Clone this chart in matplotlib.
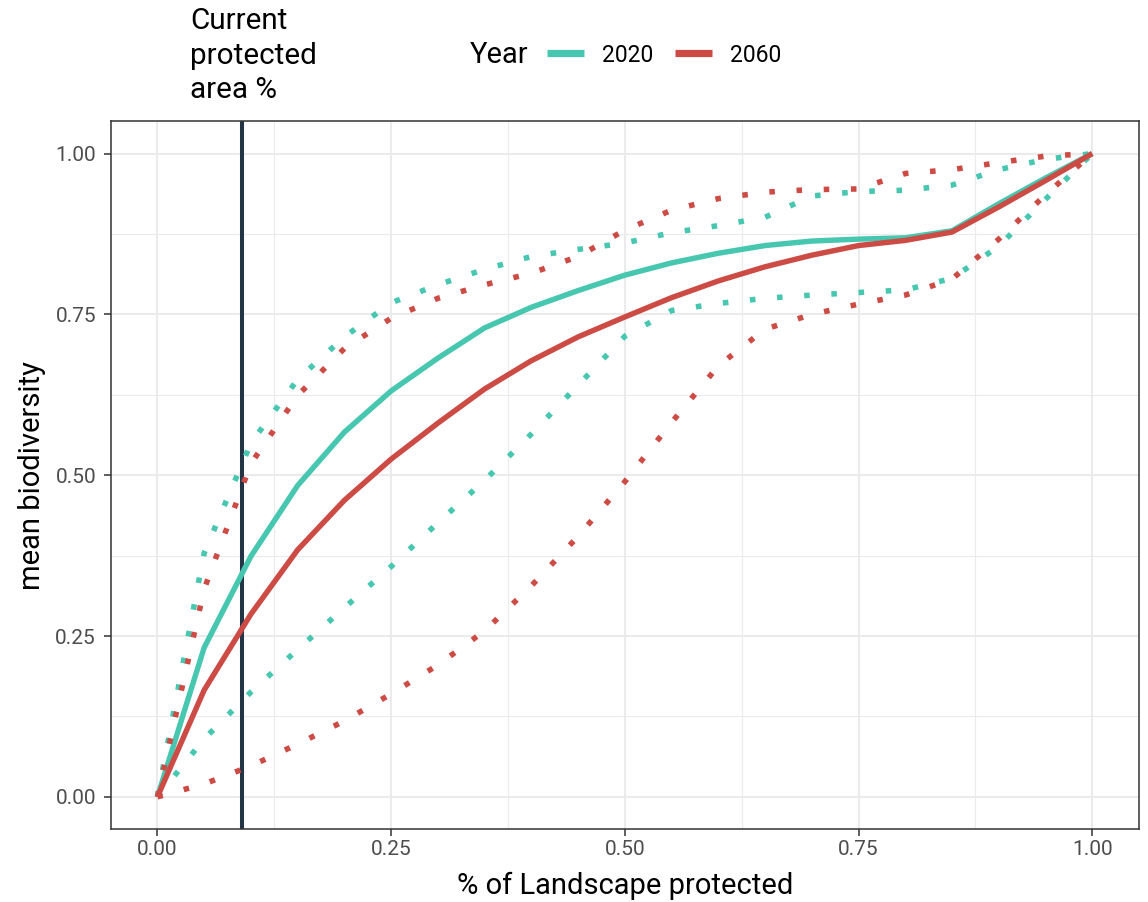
import matplotlib
matplotlib.use("Agg")
import matplotlib.pyplot as plt
from matplotlib.lines import Line2D
from matplotlib.ticker import MultipleLocator, FormatStrFormatter

plt.rcParams['font.family'] = ['Roboto', 'DejaVu Sans']

# ---- data ----
x = [0, .05, .10, .15, .20, .25, .30, .35, .40, .45, .50,
     .55, .60, .65, .70, .75, .80, .85, .90, .95, 1.0]

mean_2020 = [0, .232, .374, .484, .567, .631, .682, .729, .761, .787, .811,
             .830, .845, .857, .864, .867, .869, .880, .922, .962, 1.0]
upper_2020 = [0, .379, .550, .649, .715, .768, .796, .820, .840, .851, .861,
              .877, .888, .901, .934, .941, .943, .951, .975, .991, 1.0]
lower_2020 = [0, .090, .163, .229, .294, .358, .426, .492, .564, .640, .716,
              .756, .767, .775, .780, .784, .788, .806, .856, .929, 1.0]

mean_2060 = [0, .166, .284, .384, .461, .525, .581, .634, .678, .715, .746,
             .776, .802, .824, .842, .857, .865, .878, .917, .958, 1.0]
upper_2060 = [0, .323, .518, .624, .697, .744, .775, .796, .814, .840, .881,
              .912, .930, .940, .944, .945, .969, .975, .986, .996, 1.0]
lower_2060 = [0, .020, .048, .082, .118, .160, .205, .258, .328, .405, .490,
              .582, .670, .727, .750, .766, .780, .805, .867, .936, 1.0]

years = ['2020', '2060']
current_protected = 0.09

c2020 = '#47C6B0'
c2060 = '#CC4B45'
cvline = '#233446'

W, H = 1148, 902
fig = plt.figure(figsize=(W / 100, H / 100), dpi=100)
ax = fig.add_axes([110.7 / W, 1 - 829 / H, (1139 - 110.7) / W, (829 - 121.4) / H])

ax.axvline(current_protected, color=cvline, lw=2.9, zorder=2)

lw_solid = 3.9
lw_dot = 4.0
dot = (0, (1, 3.9))
ax.plot(x, mean_2020, color=c2020, lw=lw_solid, zorder=3, solid_capstyle='butt')
ax.plot(x, upper_2020, color=c2020, lw=lw_dot, ls=dot, dash_capstyle='butt', zorder=3)
ax.plot(x, lower_2020, color=c2020, lw=lw_dot, ls=dot, dash_capstyle='butt', zorder=3)
ax.plot(x, mean_2060, color=c2060, lw=lw_solid, zorder=4, solid_capstyle='butt')
ax.plot(x, upper_2060, color=c2060, lw=lw_dot, ls=dot, dash_capstyle='butt', zorder=4)
ax.plot(x, lower_2060, color=c2060, lw=lw_dot, ls=dot, dash_capstyle='butt', zorder=4)

ax.set_xlim(-0.05, 1.05)
ax.set_ylim(-0.05, 1.05)
for axis in (ax.xaxis, ax.yaxis):
    axis.set_major_locator(MultipleLocator(0.25))
    axis.set_minor_locator(MultipleLocator(0.125))
    axis.set_major_formatter(FormatStrFormatter('%.2f'))
ax.grid(which='major', color='#EBEBEB', lw=1.5, zorder=0)
ax.grid(which='minor', color='#EBEBEB', lw=0.8, zorder=0)
ax.set_axisbelow(True)
ax.tick_params(which='minor', length=0)
ax.tick_params(which='major', length=5, width=1.1, color='#333333',
               labelsize=15, labelcolor='#4D4D4D')
ax.tick_params(axis='y', pad=5.5)
ax.tick_params(axis='x', pad=3)
for s in ax.spines.values():
    s.set_color('#333333')
    s.set_linewidth(1.1)

ax.set_xlabel('% of Landscape protected', fontsize=21, labelpad=9)
ax.set_ylabel('mean biodiversity', fontsize=21, labelpad=7)

# annotation above the vertical line
fig.text(190 / W, 1 - 7 / H, 'Current\nprotected\narea %', fontsize=21.3,
         va='top', ha='left', linespacing=1.3)

# legend
fig.text(470 / W, 1 - 55 / H, 'Year', fontsize=21, va='center', ha='left')
handles = [Line2D([], [], color=c2020, lw=5.2, solid_capstyle='butt'),
           Line2D([], [], color=c2060, lw=5.2, solid_capstyle='butt')]
fig.legend(handles, years, loc='center left', bbox_to_anchor=(547 / W, 1 - 55 / H),
           ncol=2, frameon=False, fontsize=16.5, handlelength=1.6,
           handletextpad=0.8, columnspacing=0.95, borderpad=0, borderaxespad=0)

fig.savefig('out.png', dpi=100)
